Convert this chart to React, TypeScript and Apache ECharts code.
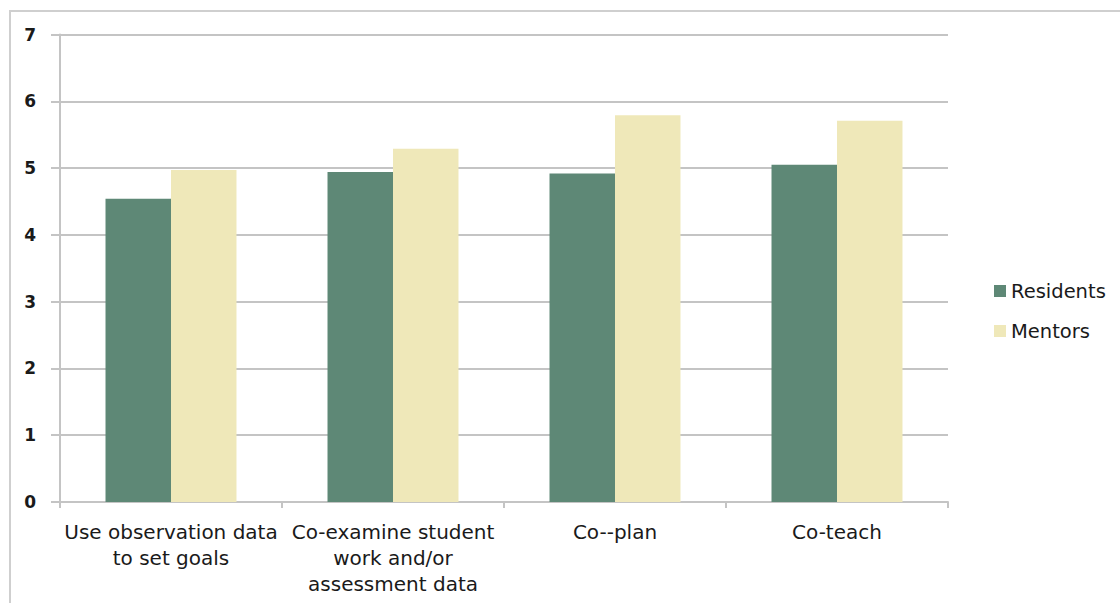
import React, { useEffect, useRef } from "react";
import * as echarts from "echarts";

const categories = [
  "Use observation data\nto set goals",
  "Co-examine student\nwork and/or\nassessment data",
  "Co--plan",
  "Co-teach",
];
const residents = [4.54, 4.94, 4.92, 5.05];
const mentors = [4.97, 5.29, 5.79, 5.71];
const yTicks = [0, 1, 2, 3, 4, 5, 6, 7];

const FONT = "DejaVu Sans";

export default function App() {
  const ref = useRef<HTMLDivElement>(null);
  useEffect(() => {
    if (!ref.current) return;
    const chart = echarts.init(ref.current, undefined, { renderer: "svg" });
    const gray = "#C4C4C4";
    chart.setOption({
      animation: false,
      backgroundColor: "#ffffff",
      textStyle: { fontFamily: FONT },
      graphic: [
        {
          type: "rect",
          shape: { x: 10, y: 11, width: 1130, height: 620 },
          style: { fill: "none", stroke: "#CFCFCF", lineWidth: 2 },
          silent: true,
        },
      ],
      grid: { left: 60, top: 34.5, right: 172, bottom: 101 },
      legend: {
        orient: "vertical",
        left: 989,
        top: 276,
        itemWidth: 12,
        itemHeight: 12,
        itemGap: 20,
        icon: "rect",
        textStyle: { fontFamily: FONT, fontSize: 19.5, color: "#1a1a1a" },
        data: ["Residents", "Mentors"],
      },
      xAxis: {
        type: "category",
        data: categories,
        axisLine: { lineStyle: { color: gray, width: 2 } },
        axisTick: { show: true, length: 6, lineStyle: { color: gray, width: 2 } },
        axisLabel: {
          fontFamily: FONT,
          fontSize: 20,
          color: "#1a1a1a",
          lineHeight: 26,
          margin: 17,
          interval: 0,
        },
      },
      yAxis: {
        type: "value",
        min: 0,
        max: 7,
        interval: 1,
        axisLine: { show: true, lineStyle: { color: gray, width: 2 } },
        axisTick: { show: true, length: 9, lineStyle: { color: gray, width: 2 } },
        splitLine: { lineStyle: { color: gray, width: 2 } },
        axisLabel: {
          fontFamily: FONT,
          fontSize: 17,
          fontWeight: "bold",
          color: "#1a1a1a",
          margin: 24,
          formatter: (v: number) => (yTicks.includes(v) ? String(v) : ""),
        },
      },
      series: [
        {
          name: "Residents",
          type: "bar",
          data: residents,
          barGap: "0%",
          barCategoryGap: "41%",
          itemStyle: { color: "#5E8876" },
        },
        {
          name: "Mentors",
          type: "bar",
          data: mentors,
          itemStyle: { color: "#EFE8B9" },
        },
      ],
    });
    return () => chart.dispose();
  }, []);
  return (
    <div
      ref={ref}
      style={{ position: "fixed", left: 0, top: 0, width: 1120, height: 603 }}
    />
  );
}
